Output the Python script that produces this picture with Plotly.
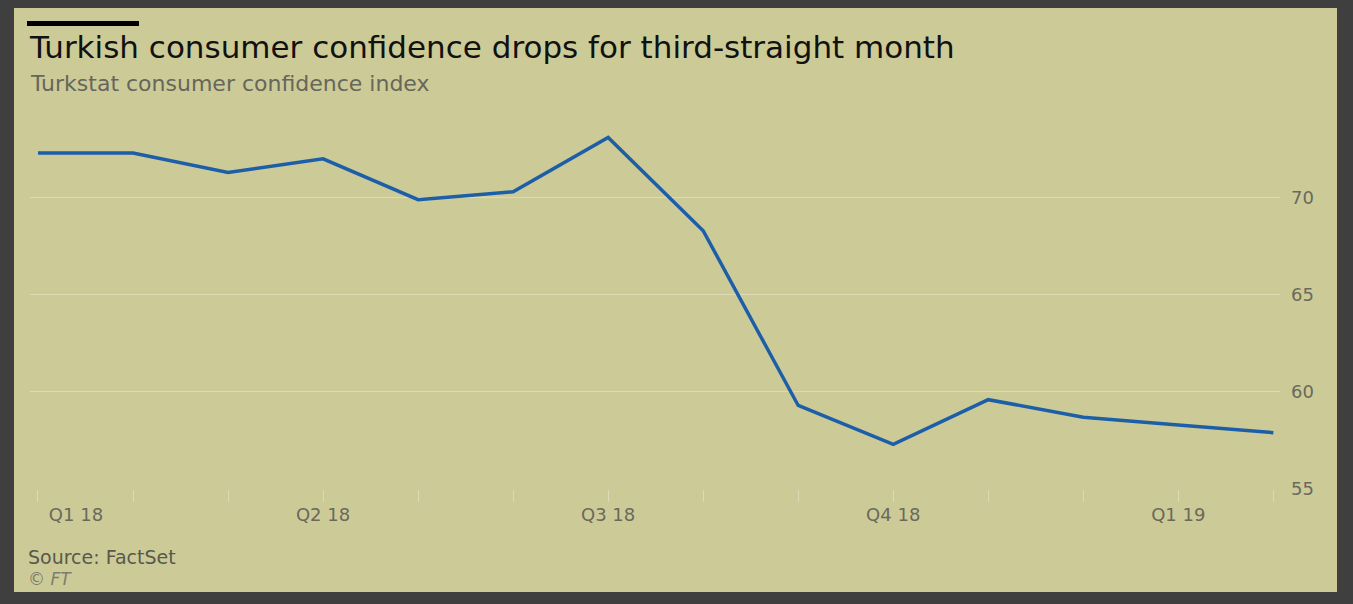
import plotly.graph_objects as go

# ---- data ----
months = ["Jan 18", "Feb 18", "Mar 18", "Apr 18", "May 18", "Jun 18", "Jul 18",
          "Aug 18", "Sep 18", "Oct 18", "Nov 18", "Dec 18", "Jan 19", "Feb 19"]
confidence = [72.3, 72.3, 71.3, 72.0, 69.9, 70.3, 73.1,
              68.3, 59.3, 57.3, 59.6, 58.7, 58.3, 57.9]
quarter_months = ["Jan 18", "Apr 18", "Jul 18", "Oct 18", "Jan 19"]
quarter_labels = ["Q1 18", "Q2 18", "Q3 18", "Q4 18", "Q1 19"]
y_ticks = [55, 60, 65, 70]

# ---- layout geometry (pixels) ----
W, H = 1353, 604
L, R, T, B = 30, 1280, 120, 489

def px(x):
    return (x - L) / (R - L)

def py(y):
    return (B - y) / (B - T)

BG = "#cccb98"
FRAME = "#3f3f3f"
GRID = "#dcdbb6"
TXT = "#6a695c"
FONT = "DejaVu Sans"

x_idx = list(range(len(months)))
# quarter label positions; first label is nudged inward so it stays inside the plot (FT style)
label_pos = [months.index(m) for m in quarter_months]
label_pos[0] = label_pos[0] + 0.4

fig = go.Figure()
fig.add_trace(go.Scatter(x=x_idx, y=confidence, mode="lines",
                         line=dict(color="#1d5ea8", width=3.5),
                         text=months, hovertemplate="%{text}: %{y}<extra></extra>",
                         showlegend=False))

fig.update_layout(
    width=W, height=H,
    margin=dict(l=L, r=W - R, t=T, b=H - B, pad=0, autoexpand=False),
    paper_bgcolor=FRAME,
    plot_bgcolor=BG,
    font=dict(family=FONT, color=TXT, size=18),
    xaxis=dict(type="linear", range=[-0.084, 13.07], tickmode="array",
               tickvals=label_pos, ticktext=quarter_labels, ticks="",
               showgrid=False, zeroline=False, showline=False, automargin=False,
               minor=dict(tickmode="array", tickvals=x_idx, ticks="outside",
                          ticklen=12, tickwidth=1, tickcolor=GRID, showgrid=False),
               tickfont=dict(size=18, color=TXT), ticklabelstandoff=13),
    yaxis=dict(side="right", range=[55, 74], tickmode="array", tickvals=y_ticks,
               showgrid=True, gridcolor=GRID, gridwidth=1, zeroline=False,
               showline=False, ticks="", automargin=False,
               tickfont=dict(size=18, color=TXT), ticklabelstandoff=10),
    shapes=[
        dict(type="rect", xref="paper", yref="paper", layer="below",
             x0=px(14), x1=px(1337), y0=py(592), y1=py(8),
             fillcolor=BG, line=dict(width=0)),
        dict(type="rect", xref="paper", yref="paper",
             x0=px(27), x1=px(139), y0=py(26), y1=py(21),
             fillcolor="#000000", line=dict(width=0)),
    ],
    annotations=[
        dict(text="Turkish consumer confidence drops for third-straight month",
             xref="paper", yref="paper", x=px(27), y=py(47), xanchor="left",
             yanchor="middle", showarrow=False,
             font=dict(size=31, color="#111111", family=FONT)),
        dict(text="Turkstat consumer confidence index",
             xref="paper", yref="paper", x=px(28), y=py(84), xanchor="left",
             yanchor="middle", showarrow=False,
             font=dict(size=22, color="#67665a", family=FONT)),
        dict(text="Source: FactSet",
             xref="paper", yref="paper", x=px(26), y=py(557), xanchor="left",
             yanchor="middle", showarrow=False,
             font=dict(size=19, color="#59584d", family=FONT)),
        dict(text="<i>© FT</i>",
             xref="paper", yref="paper", x=px(26), y=py(579), xanchor="left",
             yanchor="middle", showarrow=False,
             font=dict(size=17, color="#7c7b6c", family=FONT)),
    ],
)

fig.write_html("out.html", config={"displayModeBar": False},
               post_script="document.body.style.margin='0';")
